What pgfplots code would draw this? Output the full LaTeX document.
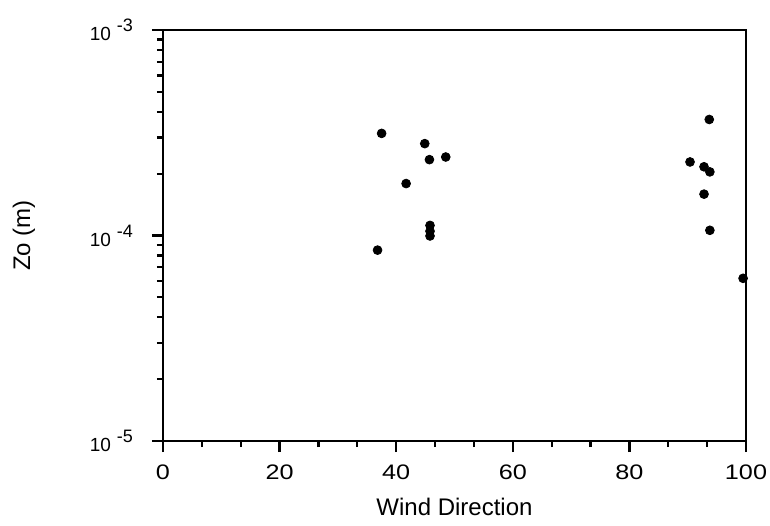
\documentclass[border=0pt]{standalone}
\usepackage{pgfplots}
\pgfplotsset{compat=1.18}
\usepackage{fontspec}
\setmainfont{Liberation Sans}
\newfontfamily\widefont[FakeStretch=1.2]{Liberation Sans}
\newcommand{\tl}[1]{{\fontsize{9.5}{11}\selectfont 10}\hspace{3pt}\raisebox{4.5pt}{\fontsize{9}{10}\selectfont -#1}}
\begin{document}
\begin{tikzpicture}
\begin{axis}[
  name=ax,
  scale only axis,
  width=291.5pt, height=205.5pt,
  xmin=0, xmax=100,
  ymode=log, ymin=1e-5, ymax=1e-3,
  xtick={0,20,40,60,80,100},
  minor x tick num=2,
  ytick={1e-5,1e-4,1e-3},
  yticklabels={\tl{5},\tl{4},\tl{3}},
  xtick pos=bottom, ytick pos=left,
  tick align=outside,
  major tick length=5.5pt,
  minor tick length=3pt,
  every tick/.style={line width=1.1pt, black},
  axis line style={line width=1.2pt},
  xticklabel style={font=\widefont\fontsize{10.5}{12}\selectfont, yshift=-3pt},
  yticklabel style={xshift=-6pt},
  /pgf/number format/assume math mode=true,
  xlabel={Wind Direction},
  ylabel={Zo (m)},
  label style={font=\fontsize{12}{14}\selectfont},
  xlabel style={yshift=-2pt},
  ylabel style={yshift=20.5pt},
  clip=false,
]
\addplot[only marks, mark=*, mark size=2.2pt, black] coordinates {
 (37.5,3.14e-4) (44.9,2.80e-4) (45.7,2.34e-4) (48.5,2.41e-4)
 (41.7,1.79e-4) (45.8,1.12e-4) (45.8,1.05e-4) (45.8,0.995e-4)
 (36.8,0.849e-4)
 (93.7,3.67e-4) (90.4,2.28e-4) (92.8,2.16e-4) (93.8,2.04e-4)
 (92.8,1.59e-4) (93.8,1.06e-4) (99.5,0.619e-4)
};
\end{axis}
\pgfresetboundingbox
\useasboundingbox ([shift={(-81.5pt,-42pt)}]ax.south west) rectangle ([shift={(12pt,15pt)}]ax.north east);
\end{tikzpicture}
\end{document}
